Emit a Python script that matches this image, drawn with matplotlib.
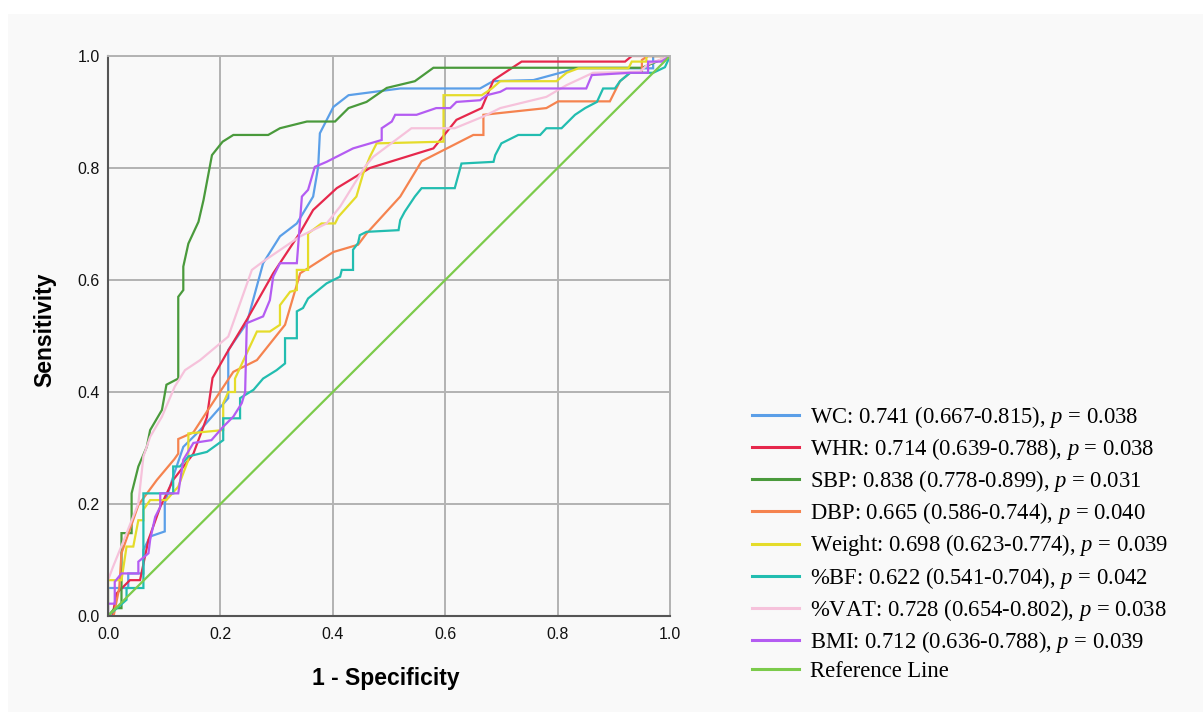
# ROC curves, several predictors plus reference line

import matplotlib
matplotlib.use("Agg")
import matplotlib.pyplot as plt
from matplotlib.patches import Rectangle

plt.rcParams["font.family"] = ["Liberation Sans", "DejaVu Sans"]
plt.rcParams["mathtext.fontset"] = "custom"
plt.rcParams["mathtext.rm"] = "Liberation Serif"
plt.rcParams["mathtext.it"] = "Liberation Serif:italic"

# --- data (fpr, tpr) ---
wc_x = [0, 0, 0.036, 0.036, 0.063, 0.063, 0.075, 0.101, 0.101, 0.116, 0.134, 0.164, 0.214, 0.214,
        0.247, 0.276, 0.306, 0.336, 0.365, 0.374, 0.377, 0.401, 0.428, 0.52, 0.662, 0.685, 0.757,
        0.834, 0.97, 0.97, 1.0]
wc_y = [0, 0.05, 0.05, 0.076, 0.076, 0.118, 0.142, 0.151, 0.201, 0.249, 0.302, 0.332, 0.389, 0.475,
        0.523, 0.63, 0.678, 0.701, 0.749, 0.802, 0.862, 0.909, 0.93, 0.942, 0.942, 0.955, 0.957,
        0.978, 0.978, 1.0, 1.0]

whr_x = [0, 0.008, 0.015, 0.039, 0.057, 0.072, 0.093, 0.116, 0.152, 0.176, 0.186, 0.211, 0.247,
         0.294, 0.342, 0.365, 0.407, 0.466, 0.579, 0.62, 0.665, 0.686, 0.736, 0.92, 0.932, 1.0]
whr_y = [0, 0, 0.04, 0.064, 0.064, 0.136, 0.195, 0.243, 0.29, 0.355, 0.425, 0.469, 0.529,
         0.612, 0.685, 0.725, 0.764, 0.8, 0.835, 0.886, 0.907, 0.957, 0.99, 0.99, 1.0, 1.0]

sbp_x = [0, 0.012, 0.024, 0.024, 0.042, 0.042, 0.054, 0.069, 0.075, 0.096, 0.104, 0.125, 0.125,
         0.134, 0.134, 0.143, 0.161, 0.17, 0.185, 0.204, 0.223, 0.285, 0.306, 0.354, 0.404, 0.428,
         0.46, 0.496, 0.546, 0.579, 0.95, 1.0]
sbp_y = [0, 0.014, 0.014, 0.148, 0.148, 0.219, 0.267, 0.302, 0.332, 0.368, 0.413, 0.424, 0.57,
         0.582, 0.624, 0.665, 0.704, 0.743, 0.823, 0.847, 0.859, 0.859, 0.871, 0.883, 0.883, 0.907,
         0.918, 0.943, 0.955, 0.979, 0.979, 1.0]

dbp_x = [0, 0.01, 0.02, 0.024, 0.054, 0.087, 0.118, 0.125, 0.125, 0.152, 0.176, 0.223, 0.265,
         0.315, 0.342, 0.401, 0.445, 0.46, 0.52, 0.558, 0.65, 0.668, 0.668, 0.78, 0.801, 0.893,
         0.911, 0.929, 0.95, 0.95, 0.961, 1.0]
dbp_y = [0, 0, 0.05, 0.112, 0.198, 0.243, 0.28, 0.29, 0.316, 0.328, 0.365, 0.436, 0.457,
         0.52, 0.612, 0.65, 0.663, 0.683, 0.749, 0.812, 0.859, 0.859, 0.895, 0.907, 0.919, 0.919,
         0.955, 0.97, 0.97, 0.993, 1.0, 1.0]

wt_x = [0, 0, 0.024, 0.033, 0.045, 0.054, 0.063, 0.063, 0.075, 0.104, 0.125, 0.143, 0.143, 0.205,
        0.205, 0.214, 0.226, 0.226, 0.244, 0.265, 0.288, 0.306, 0.306, 0.324, 0.336, 0.336, 0.356,
        0.356, 0.38, 0.404, 0.41, 0.442, 0.454, 0.466, 0.478, 0.597, 0.597, 0.665, 0.683, 0.698,
        0.798, 0.816, 0.837, 0.926, 0.932, 0.958, 0.958, 1.0]
wt_y = [0, 0.064, 0.064, 0.124, 0.124, 0.171, 0.171, 0.19, 0.207, 0.207, 0.231, 0.279, 0.326, 0.332,
        0.38, 0.40, 0.40, 0.424, 0.463, 0.508, 0.508, 0.52, 0.555, 0.579, 0.582, 0.618, 0.618,
        0.683, 0.701, 0.701, 0.713, 0.749, 0.79, 0.82, 0.844, 0.847, 0.93, 0.93, 0.942, 0.955,
        0.955, 0.97, 0.978, 0.978, 0.99, 0.99, 1.0, 1.0]

bf_x = [0, 0.033, 0.033, 0.063, 0.063, 0.116, 0.116, 0.128, 0.143, 0.176, 0.205, 0.205, 0.235,
        0.235, 0.259, 0.276, 0.3, 0.315, 0.315, 0.336, 0.336, 0.347, 0.356, 0.389, 0.413, 0.416,
        0.436, 0.436, 0.445, 0.448, 0.46, 0.517, 0.52, 0.528, 0.546, 0.558, 0.617, 0.629, 0.686,
        0.689, 0.7, 0.73, 0.769, 0.78, 0.807, 0.831, 0.849, 0.87, 0.881, 0.902, 0.911, 0.929,
        0.97, 0.991, 1.0]
bf_y = [0, 0.029, 0.05, 0.05, 0.219, 0.219, 0.267, 0.267, 0.285, 0.293, 0.314, 0.353, 0.353,
        0.389, 0.404, 0.424, 0.439, 0.451, 0.496, 0.496, 0.544, 0.55, 0.567, 0.594, 0.606, 0.618,
        0.618, 0.654, 0.666, 0.68, 0.686, 0.689, 0.707, 0.722, 0.749, 0.764, 0.764, 0.808, 0.811,
        0.823, 0.844, 0.859, 0.859, 0.871, 0.871, 0.895, 0.907, 0.918, 0.942, 0.942, 0.955, 0.97,
        0.97, 0.98, 1.0]

vat_x = [0, 0, 0.009, 0.03, 0.054, 0.063, 0.075, 0.096, 0.119, 0.137, 0.164, 0.214, 0.256, 0.276,
         0.342, 0.389, 0.413, 0.457, 0.472, 0.54, 0.617, 0.668, 0.698, 0.78, 0.816, 0.863, 0.947,
         0.96, 1.0]
vat_y = [0, 0.064, 0.088, 0.14, 0.201, 0.285, 0.32, 0.356, 0.41, 0.439, 0.457, 0.499, 0.618, 0.633,
         0.678, 0.701, 0.731, 0.802, 0.82, 0.871, 0.871, 0.892, 0.907, 0.927, 0.948, 0.97, 0.972,
         0.985, 1.0]

bmi_x = [0, 0, 0.012, 0.012, 0.024, 0.054, 0.054, 0.072, 0.075, 0.084, 0.093, 0.093, 0.125, 0.134,
         0.152, 0.184, 0.205, 0.223, 0.238, 0.244, 0.247, 0.276, 0.288, 0.294, 0.306, 0.336, 0.345,
         0.356, 0.368, 0.389, 0.436, 0.487, 0.487, 0.505, 0.511, 0.549, 0.584, 0.609, 0.62, 0.662,
         0.674, 0.698, 0.709, 0.851, 0.861, 0.929, 0.961, 0.961, 0.985, 1.0]
bmi_y = [0, 0.022, 0.022, 0.061, 0.076, 0.076, 0.097, 0.112, 0.136, 0.177, 0.195, 0.219, 0.219,
         0.279, 0.309, 0.314, 0.338, 0.356, 0.38, 0.40, 0.523, 0.535, 0.564, 0.606, 0.63, 0.63,
         0.749, 0.761, 0.802, 0.811, 0.835, 0.85, 0.871, 0.883, 0.895, 0.895, 0.907, 0.907, 0.918,
         0.921, 0.93, 0.936, 0.942, 0.942, 0.966, 0.97, 0.97, 0.99, 0.99, 1.0]

ref_x = [0, 1]
ref_y = [0, 1]

labels = [
    "WC: 0.741 (0.667-0.815), $p$ = 0.038",
    "WHR: 0.714 (0.639-0.788), $p$ = 0.038",
    "SBP: 0.838 (0.778-0.899), $p$ = 0.031",
    "DBP: 0.665 (0.586-0.744), $p$ = 0.040",
    "Weight: 0.698 (0.623-0.774), $p$ = 0.039",
    "%BF: 0.622 (0.541-0.704), $p$ = 0.042",
    "%VAT: 0.728 (0.654-0.802), $p$ = 0.038",
    "BMI: 0.712 (0.636-0.788), $p$ = 0.039",
    "Reference Line",
]
colors = ["#5b9fe8", "#e6284c", "#4a9a3c", "#f5834f", "#e5dc2a", "#22bdb0", "#f6c2db",
          "#b45cf2", "#7ccb4b"]
curves = [(wc_x, wc_y), (whr_x, whr_y), (sbp_x, sbp_y), (dbp_x, dbp_y), (wt_x, wt_y),
          (bf_x, bf_y), (vat_x, vat_y), (bmi_x, bmi_y), (ref_x, ref_y)]

W, H = 1203, 712
fig = plt.figure(figsize=(W / 100, H / 100), dpi=100, facecolor="white")
fig.patches.append(Rectangle((8 / W, 0), 1, 1 - 14 / H, transform=fig.transFigure,
                             facecolor="#f9f9f9", edgecolor="none", zorder=-5))

ax = fig.add_axes([108 / W, 1 - 616 / H, 562 / W, 560 / H])
ax.set_facecolor("#f9f9f9")

for (x, y), c, lab in zip(curves, colors, labels):
    ax.plot(x, y, color=c, lw=1.6, label=lab, solid_joinstyle="miter")

ax.set_xlim(0, 1)
ax.set_ylim(0, 1)
ticks = [0.0, 0.2, 0.4, 0.6, 0.8, 1.0]
ax.set_xticks(ticks)
ax.set_yticks(ticks)
ax.set_xticklabels([f"{t:.1f}" for t in ticks])
ax.set_yticklabels([f"{t:.1f}" for t in ticks])
ax.tick_params(length=0, labelsize=11.5, colors="#111111")
ax.tick_params(axis="x", pad=8)
ax.tick_params(axis="y", pad=6)
ax.grid(True, color="#b3b3b3", lw=1.4)
ax.set_axisbelow(True)
for s in ["top", "right"]:
    ax.spines[s].set_color("#b3b3b3")
    ax.spines[s].set_linewidth(1.4)
for s in ["left", "bottom"]:
    ax.spines[s].set_color("#555555")
    ax.spines[s].set_linewidth(1.5)

ax.set_xlabel("1 - Specificity", fontsize=16.5, fontweight="bold", va="center")
ax.set_ylabel("Sensitivity", fontsize=16.5, fontweight="bold", va="center")
ax.xaxis.set_label_coords((386 - 108) / 562, (616 - 678) / 560)
ax.yaxis.set_label_coords((45 - 108) / 562, (616 - 330) / 560)

leg = fig.legend(loc="upper left", bbox_to_anchor=(752 / W, 1 - 404 / H),
                 prop={"family": "Liberation Serif", "size": 16.3}, frameon=False,
                 borderpad=0, borderaxespad=0, handlelength=2.06, handletextpad=0.52,
                 labelspacing=0.27)
for line in leg.get_lines():
    line.set_linewidth(2.2)

fig.savefig("out.png", dpi=100)
